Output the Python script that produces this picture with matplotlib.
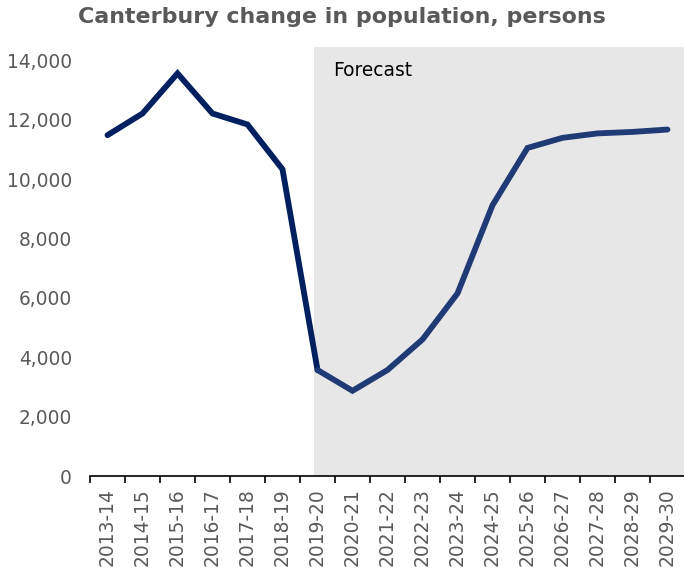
import matplotlib
matplotlib.use("Agg")
import matplotlib.pyplot as plt
import numpy as np

years = ["2013-14", "2014-15", "2015-16", "2016-17", "2017-18", "2018-19",
         "2019-20", "2020-21", "2021-22", "2022-23", "2023-24", "2024-25",
         "2025-26", "2026-27", "2027-28", "2028-29", "2029-30"]
population_change = [11480, 12210, 13560, 12210, 11840, 10330,
                     3570, 2870, 3570, 4600, 6150, 9120,
                     11050, 11390, 11540, 11590, 11670]
forecast_start = "2019-20"
yticks = [0, 2000, 4000, 6000, 8000, 10000, 12000, 14000]

plt.rcParams['font.family'] = ['DejaVu Sans']
fig = plt.figure(figsize=(6.84, 5.68), dpi=100)
ax = fig.add_axes([90/684, 1 - 476/568, 595/684, (476 - 47)/568])

x = np.arange(len(years))
fi = years.index(forecast_start)

ax.axvspan(fi - 0.1, len(years) - 0.5, color="#e7e7e7", zorder=0, lw=0)
ax.text(fi + 0.45, 13650, "Forecast", fontsize=13.4, color="#000000", va="center", ha="left")

ax.plot(x[:fi + 1], population_change[:fi + 1], color="#002060", lw=4.2,
        solid_capstyle="round", solid_joinstyle="miter", zorder=3)
ax.plot(x[fi:], population_change[fi:], color="#1f3a74", lw=4.2,
        solid_capstyle="round", solid_joinstyle="miter", zorder=3)

ax.set_xlim(-0.5, len(years) - 0.5)
ax.set_ylim(0, 14450)
ax.set_yticks(yticks)
ax.set_yticklabels([f"{v:,}" for v in yticks])
ax.set_xticks(x)
ax.set_xticklabels(years, rotation=90)
ax.set_xticks(np.arange(-0.5, len(years), 1.0), minor=True)

for s in ["top", "right", "left"]:
    ax.spines[s].set_visible(False)
ax.spines["bottom"].set_color("#000000")
ax.spines["bottom"].set_linewidth(1.2)
ax.spines["bottom"].set_zorder(4)

ax.tick_params(axis="y", length=0, pad=13, labelsize=13.4, labelcolor="#595959")
ax.tick_params(axis="x", which="major", length=0, pad=9, labelsize=13.4, labelcolor="#595959")
ax.tick_params(axis="x", which="minor", length=5, width=1.2, color="#000000", direction="out")

fig.text(0.5, 1 - 17/568, "Canterbury change in population, persons", ha="center", va="center",
         fontsize=15.9, fontweight="bold", color="#595959")

fig.savefig("out.png", dpi=100)
